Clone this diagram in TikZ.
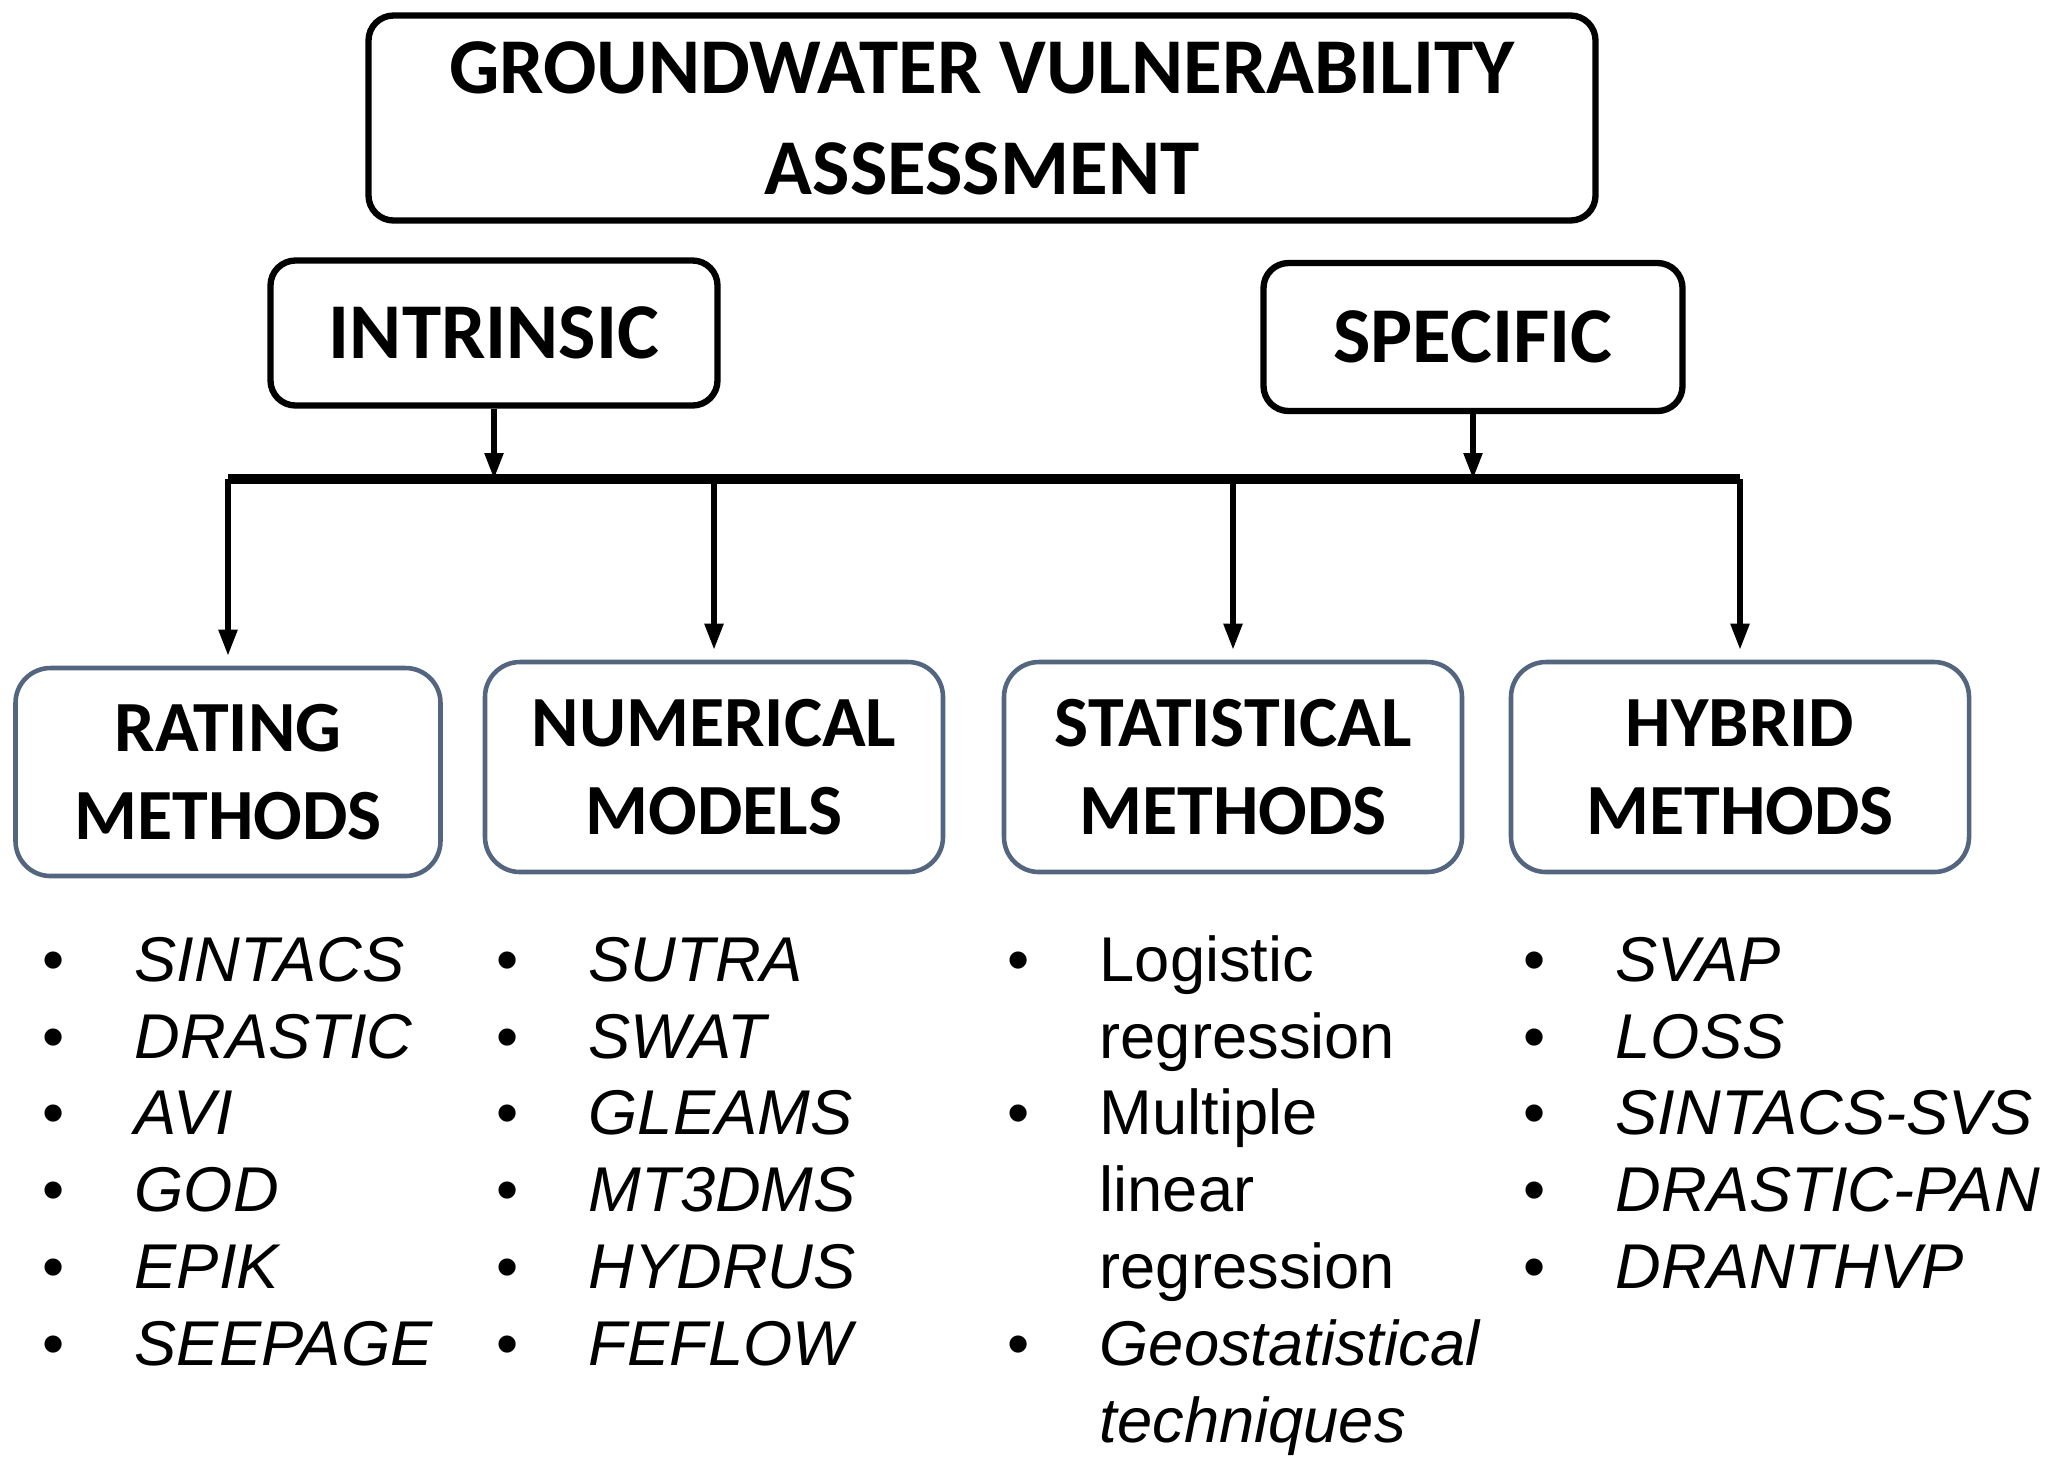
\documentclass[tikz,border=0pt]{standalone}
\usepackage{fontspec}
\setmainfont{Liberation Sans}
\newfontfamily\calfont{Carlito}
\usetikzlibrary{arrows.meta, positioning}
\definecolor{CSlate}{HTML}{53657F}

\begin{document}
\begin{tikzpicture}[
    head/.style={rectangle, rounded corners=0.25cm, draw=black, line width=1.8pt, align=center, font=\calfont\bfseries\fontsize{22.5}{28.8}\selectfont},
    method/.style={rectangle, rounded corners=0.35cm, draw=CSlate, line width=1.3pt, align=center, minimum width=4.58cm, minimum height=2.1cm, font=\calfont\bfseries\fontsize{20.5}{25}\selectfont},
    list/.style={anchor=base west, inner sep=0pt, font=\fontsize{18}{21.9}\selectfont},
    arrow/.style={-{Triangle[length=2.6mm, width=1.8mm]}, line width=1.5pt},
    bar/.style={line width=2.6pt},
]
\useasboundingbox (0,0) rectangle (20.65,-14.71);

% Top levels
\node[head, minimum width=12.27cm, minimum height=2.05cm] (top) at (9.82,-1.18) {GROUNDWATER VULNERABILITY\\ASSESSMENT};
\node[head, minimum width=4.47cm, minimum height=1.45cm] (intr) at (4.94,-3.33) {INTRINSIC};
\node[head, minimum width=4.19cm, minimum height=1.48cm] (spec) at (14.73,-3.37) {SPECIFIC};

% Method boxes
\node[method, minimum width=4.25cm, minimum height=2.08cm] (rate) at (2.28,-7.72) {RATING\\METHODS};
\node[method] (num) at (7.14,-7.67) {NUMERICAL\\MODELS};
\node[method] (stat) at (12.33,-7.67) {STATISTICAL\\METHODS};
\node[method] (hyb) at (17.40,-7.67) {HYBRID\\METHODS};

% Bar and arrows
\coordinate (barY) at (0,-4.79);
\draw[bar] (rate.north |- barY) -- (hyb.north |- barY);
\draw[arrow] (intr.south) -- (intr.south |- barY);
\draw[arrow] (spec.south) -- (spec.south |- barY);
\foreach \m in {rate, num, stat, hyb}
    \draw[arrow] (\m.north |- barY) -- ([yshift=1mm]\m.north);

% Lists
\node[list] (rateList) at (0.42,-9.81) {\begin{tabular}[t]{@{}p{0.92cm}@{}l@{}}
• & \itshape SINTACS\\
• & \itshape DRASTIC\\
• & \itshape AVI\\
• & \itshape GOD\\
• & \itshape EPIK\\
• & \itshape SEEPAGE
\end{tabular}};
\node[list] (numList) at (4.96,-9.81) {\begin{tabular}[t]{@{}p{0.92cm}@{}l@{}}
• & \itshape SUTRA\\
• & \itshape SWAT\\
• & \itshape GLEAMS\\
• & \itshape MT3DMS\\
• & \itshape HYDRUS\\
• & \itshape FEFLOW
\end{tabular}};
\node[list] (statList) at (10.07,-9.81) {\begin{tabular}[t]{@{}p{0.92cm}@{}l@{}}
• & Logistic\\
  & regression\\
• & Multiple\\
  & linear\\
  & regression\\
• & \itshape Geostatistical\\
  & \itshape techniques
\end{tabular}};
\node[list] (hybList) at (15.23,-9.81) {\begin{tabular}[t]{@{}p{0.92cm}@{}l@{}}
• & \itshape SVAP\\
• & \itshape LOSS\\
• & \itshape SINTACS-SVS\\
• & \itshape DRASTIC-PAN\\
• & \itshape DRANTHVP
\end{tabular}};

\end{tikzpicture}
\end{document}
